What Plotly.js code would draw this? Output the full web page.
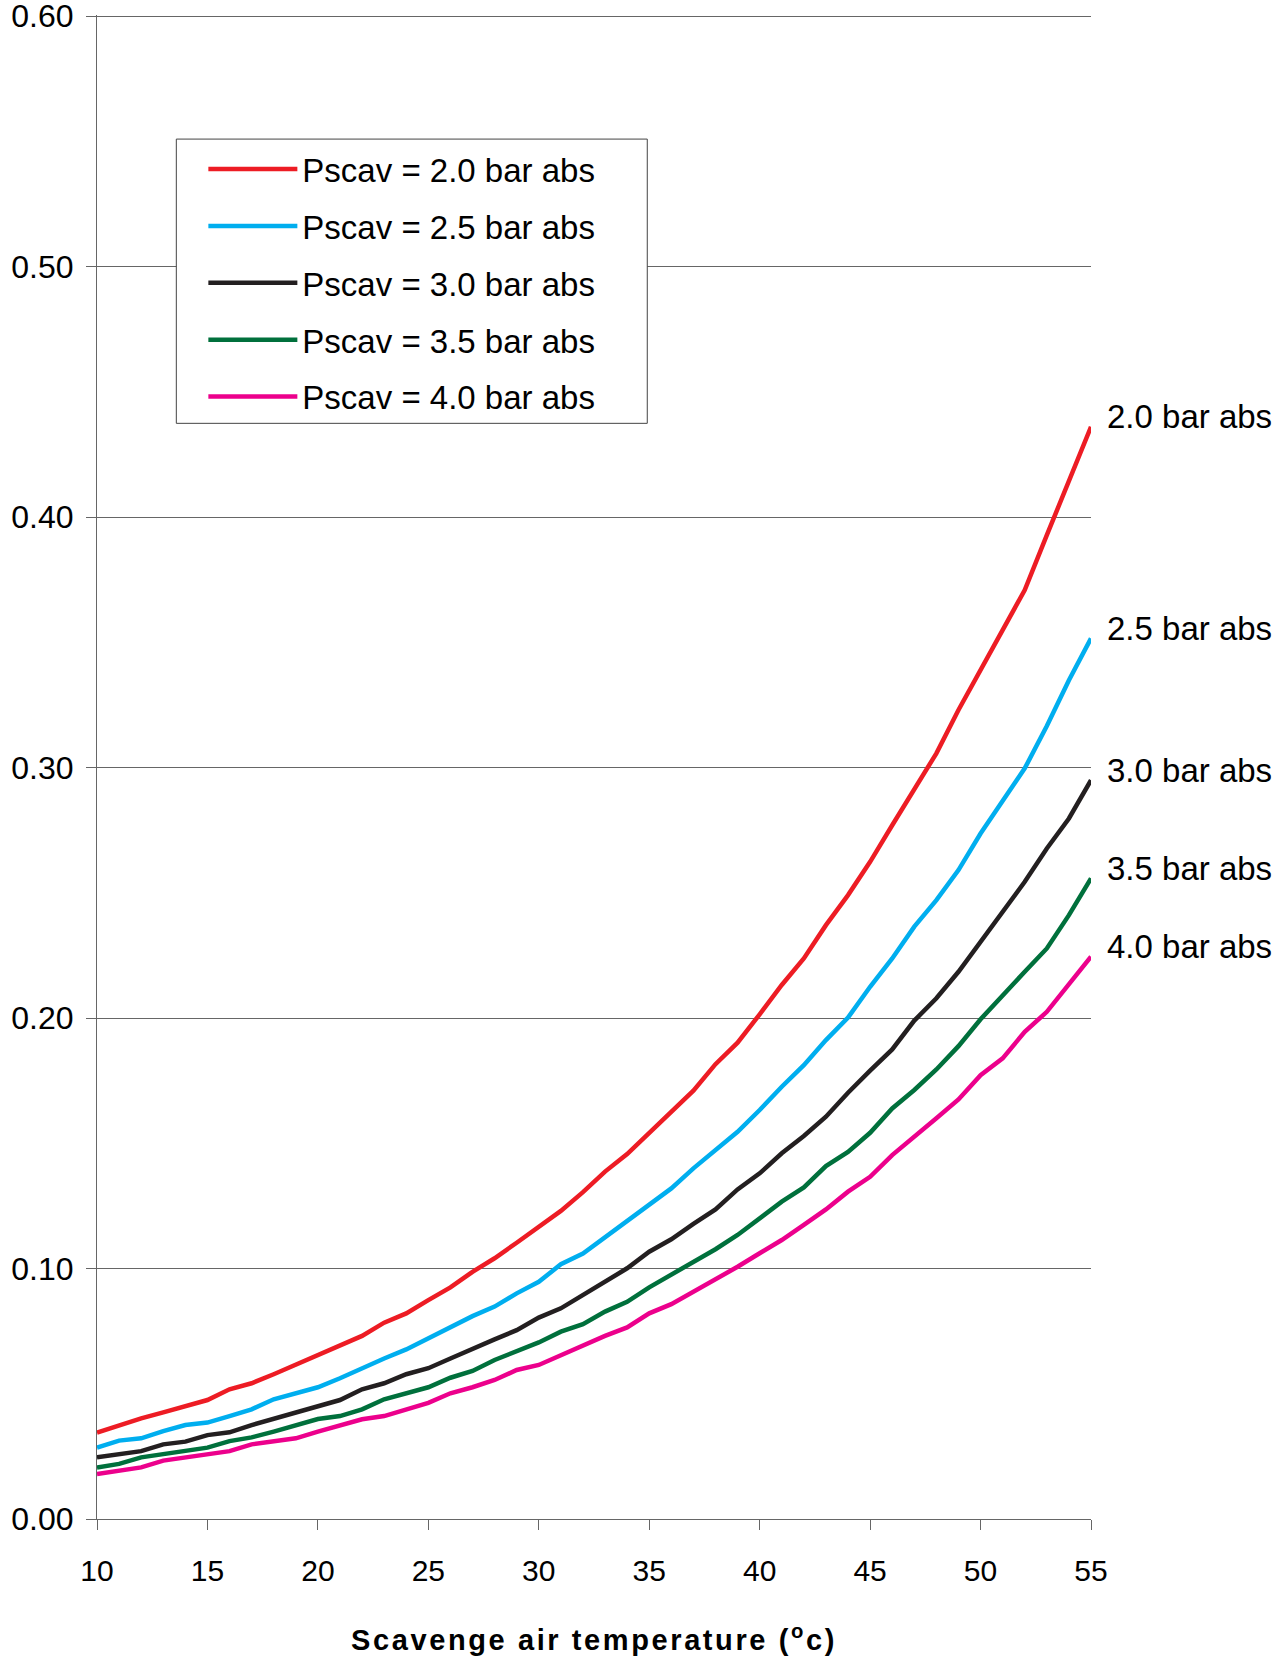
<!DOCTYPE html>
<html>
<head>
<meta charset="utf-8">
<script src="https://cdn.plot.ly/plotly-3.0.1.min.js"></script>
<style>
  html, body { margin: 0; padding: 0; background: #ffffff; }
  #chart { width: 1284px; height: 1661px; }
  text.xtitle { letter-spacing: 2.6px; }
</style>
</head>
<body>
<div id="chart"></div>
<script>
// Scavenge air temperature (°C)
const temperatures = [10,11,12,13,14,15,16,17,18,19,20,21,22,23,24,25,26,27,28,29,30,31,32,33,34,35,36,37,38,39,40,41,42,43,44,45,46,47,48,49,50,51,52,53,54,55];

// Scavenge air pressures (bar abs)
const pressures = ['2.0', '2.5', '3.0', '3.5', '4.0'];

const pscav20 = [0.0345,0.0375,0.0402,0.0426,0.0451,0.0475,0.0518,0.0542,0.0578,0.0617,0.0655,0.0691,0.0731,0.0784,0.0821,0.0874,0.0925,0.0987,0.1041,0.1103,0.1167,0.1230,0.1305,0.1387,0.1457,0.1540,0.1622,0.1710,0.1816,0.1902,0.2015,0.2132,0.2238,0.2371,0.2491,0.2624,0.2770,0.2910,0.3057,0.3230,0.3389,0.3545,0.3709,0.3928,0.4148,0.4361];
const pscav25 = [0.0285,0.0313,0.0322,0.0351,0.0375,0.0385,0.0411,0.0438,0.0478,0.0502,0.0526,0.0562,0.0602,0.0641,0.0677,0.0721,0.0761,0.0810,0.0848,0.0901,0.0947,0.1017,0.1060,0.1124,0.1191,0.1257,0.1320,0.1400,0.1473,0.1546,0.1633,0.1726,0.1812,0.1912,0.2002,0.2125,0.2238,0.2365,0.2471,0.2591,0.2737,0.2870,0.2997,0.3166,0.3349,0.3516];
const pscav30 = [0.0246,0.0259,0.0271,0.0298,0.0309,0.0335,0.0346,0.0375,0.0399,0.0426,0.0451,0.0475,0.0518,0.0542,0.0578,0.0602,0.0641,0.0677,0.0717,0.0754,0.0804,0.0841,0.0894,0.0943,0.1001,0.1067,0.1117,0.1178,0.1236,0.1316,0.1380,0.1460,0.1529,0.1606,0.1702,0.1790,0.1875,0.1990,0.2079,0.2185,0.2305,0.2418,0.2544,0.2677,0.2797,0.2950];
const pscav35 = [0.0206,0.0220,0.0246,0.0259,0.0271,0.0285,0.0311,0.0326,0.0349,0.0375,0.0399,0.0411,0.0438,0.0478,0.0502,0.0526,0.0564,0.0591,0.0635,0.0671,0.0705,0.0748,0.0778,0.0828,0.0867,0.0925,0.0974,0.1027,0.1077,0.1134,0.1200,0.1267,0.1324,0.1409,0.1466,0.1542,0.1639,0.1713,0.1795,0.1888,0.1995,0.2092,0.2185,0.2278,0.2411,0.2558];
const pscav40 = [0.0180,0.0193,0.0206,0.0233,0.0246,0.0259,0.0271,0.0298,0.0309,0.0322,0.0349,0.0375,0.0398,0.0411,0.0438,0.0464,0.0502,0.0526,0.0555,0.0595,0.0615,0.0655,0.0695,0.0731,0.0765,0.0821,0.0858,0.0907,0.0957,0.1007,0.1061,0.1114,0.1174,0.1236,0.1307,0.1366,0.1453,0.1529,0.1600,0.1675,0.1772,0.1839,0.1945,0.2025,0.2138,0.2245];

const yTickValues = [0, 0.1, 0.2, 0.3, 0.4, 0.5, 0.6];
const xTickValues = [10, 15, 20, 25, 30, 35, 40, 45, 50, 55];

const seriesValues = [pscav20, pscav25, pscav30, pscav35, pscav40];
const colors = ['#ED1C24', '#00AEEF', '#231F20', '#00703C', '#EC008C'];

const FONT = 'Liberation Sans, Arial, Helvetica, sans-serif';

const traces = seriesValues.map((vals, i) => ({
  type: 'scatter',
  mode: 'lines',
  x: temperatures,
  y: vals,
  name: 'Pscav = ' + pressures[i] + ' bar abs',
  legendgroup: 'g' + i,
  line: { color: colors[i], width: 4.5 },
  hoverinfo: 'x+y+name'
}));

const annotations = seriesValues.map((vals, i) => ({
  xref: 'x', yref: 'y',
  x: temperatures[temperatures.length - 1],
  y: vals[vals.length - 1],
  text: pressures[i] + ' bar abs',
  showarrow: false,
  xanchor: 'left', yanchor: 'middle',
  xshift: 14, yshift: 10,
  font: { family: FONT, size: 33, color: '#000000' }
}));

const layout = {
  width: 1284,
  height: 1661,
  margin: { l: 97, r: 193, t: 15, b: 142, pad: 0 },
  paper_bgcolor: '#ffffff',
  plot_bgcolor: '#ffffff',
  font: { family: FONT, color: '#000000' },
  showlegend: true,
  legend: {
    x: 0.107, y: 0.9162, xanchor: 'left', yanchor: 'top',
    bgcolor: 'rgba(0,0,0,0)', borderwidth: 0,
    font: { family: FONT, size: 33, color: '#000000' },
    itemwidth: 89,
    tracegroupgap: 11,
    traceorder: 'grouped'
  },
  shapes: [{
    type: 'rect', xref: 'paper', yref: 'paper',
    x0: 0.0798, x1: 0.5536, y0: 0.7285, y1: 0.9175,
    line: { color: '#444444', width: 1 },
    fillcolor: '#ffffff',
    layer: 'above'
  }],
  xaxis: {
    range: [10, 55],
    tickmode: 'array', tickvals: xTickValues, ticktext: xTickValues.map(String),
    ticks: 'outside', ticklen: 10, tickwidth: 1, tickcolor: '#666666',
    ticklabelstandoff: 15,
    showline: true, linecolor: '#666666', linewidth: 1,
    showgrid: false, zeroline: false,
    tickfont: { family: FONT, size: 30, color: '#000000' },
    title: {
      text: 'Scavenge air temperature (<sup>o</sup>c)',
      font: { family: FONT, size: 29, color: '#000000', weight: 'bold' },
      standoff: 43
    }
  },
  yaxis: {
    range: [0, 0.6005],
    tickmode: 'array', tickvals: yTickValues, ticktext: yTickValues.map(v => v.toFixed(2)),
    ticks: 'outside', ticklen: 10, tickwidth: 1, tickcolor: '#666666',
    ticklabelstandoff: 6,
    ticklabeloverflow: 'allow',
    showline: true, linecolor: '#666666', linewidth: 1,
    showgrid: true, gridcolor: '#666666', gridwidth: 1,
    zeroline: false,
    tickfont: { family: FONT, size: 32, color: '#000000' }
  },
  annotations: annotations
};

Plotly.newPlot('chart', traces, layout, { staticPlot: true, displayModeBar: false });
</script>
</body>
</html>
